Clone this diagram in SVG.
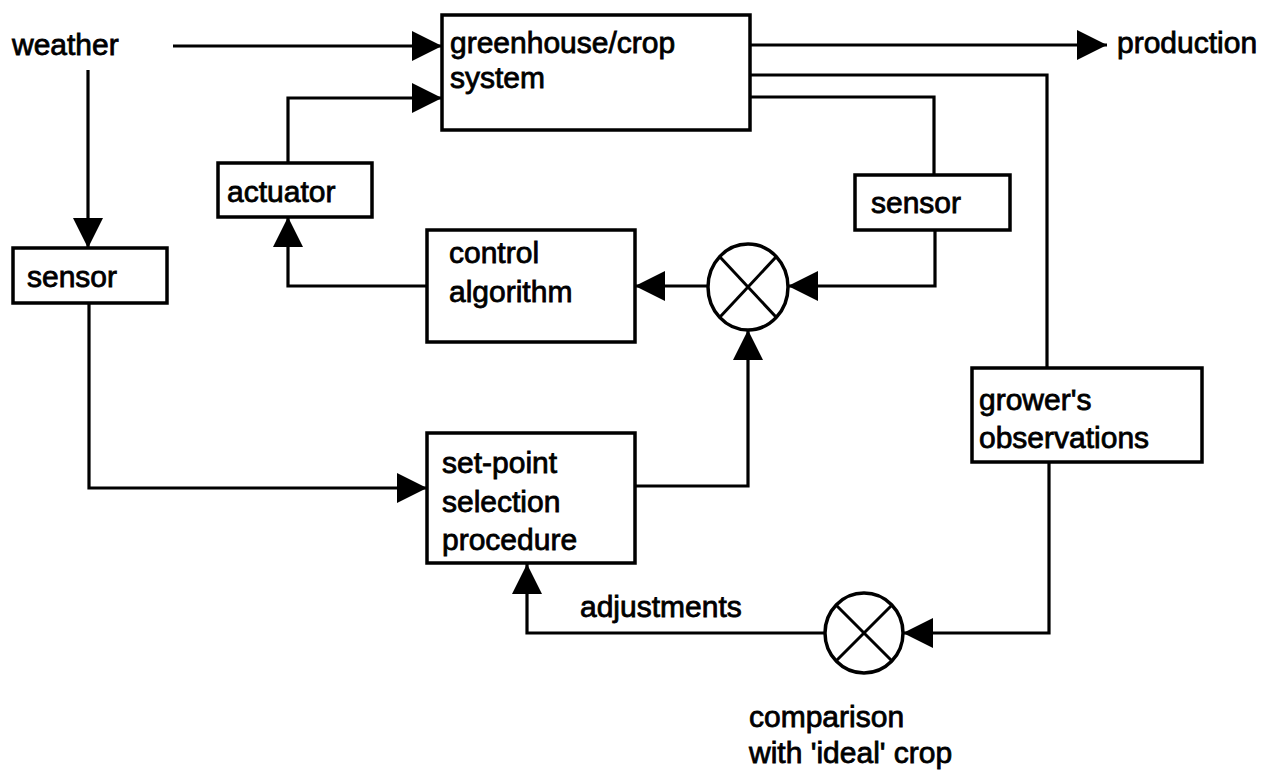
<svg xmlns="http://www.w3.org/2000/svg" width="1269" height="771" viewBox="0 0 1269 771">
  <style>
    .box { fill: #fff; stroke: #000; stroke-width: 3.5; }
    .wire { fill: none; stroke: #000; stroke-width: 3.2; stroke-linejoin: miter; }
    .sum { fill: #fff; stroke: #000; stroke-width: 3.5; }
    .cross { stroke: #000; stroke-width: 3; }
    text { font-family: "Liberation Sans", Arial, Helvetica, sans-serif; font-size: 30px; fill: #000; stroke: #000; stroke-width: 0.8; }
  </style>
  <defs>
    <marker id="arrow" markerUnits="userSpaceOnUse" markerWidth="31" markerHeight="31" refX="30" refY="15" orient="auto">
      <path d="M0,0 L30,15 L0,30 Z" fill="#000"/>
    </marker>
  </defs>
  <rect width="1269" height="771" fill="#fff"/>

  <!-- connectors -->
  <g id="connectors">
    <!-- weather into the greenhouse -->
    <path class="wire" d="M173,46 H442" marker-end="url(#arrow)"/>
    <!-- weather down to the outside sensor -->
    <path class="wire" d="M88,70 V248" marker-end="url(#arrow)"/>
    <!-- actuator into the greenhouse -->
    <path class="wire" d="M288,163 V98 H442" marker-end="url(#arrow)"/>
    <!-- production output -->
    <path class="wire" d="M750,45 H1107" marker-end="url(#arrow)"/>
    <!-- crop state to grower's observations -->
    <path class="wire" d="M750,75 H1047 V368"/>
    <!-- crop state to inside sensor -->
    <path class="wire" d="M750,97 H934 V175"/>
    <!-- inside sensor to comparator -->
    <path class="wire" d="M935,230 V286 H788" marker-end="url(#arrow)"/>
    <!-- comparator to control algorithm -->
    <path class="wire" d="M708,286 H635" marker-end="url(#arrow)"/>
    <!-- control algorithm to actuator -->
    <path class="wire" d="M427,286 H288 V217" marker-end="url(#arrow)"/>
    <!-- outside sensor to set-point selection -->
    <path class="wire" d="M89,303 V488 H427" marker-end="url(#arrow)"/>
    <!-- set-point to comparator -->
    <path class="wire" d="M635,486 H748 V330" marker-end="url(#arrow)"/>
    <!-- grower's observations to comparison -->
    <path class="wire" d="M1049,462 V633 H903" marker-end="url(#arrow)"/>
    <!-- comparison adjustments back to set-point -->
    <path class="wire" d="M825,633 H527 V564" marker-end="url(#arrow)"/>
  </g>

  <g id="greenhouse">
    <rect class="box" x="442" y="15" width="308" height="115"/>
    <text x="450" y="53">greenhouse/crop</text>
    <text x="450" y="88">system</text>
  </g>

  <g id="weather">
    <text x="12" y="55">weather</text>
  </g>

  <g id="production">
    <text x="1117" y="53">production</text>
  </g>

  <g id="actuator">
    <rect class="box" x="218" y="163" width="154" height="54"/>
    <text x="227" y="202">actuator</text>
  </g>

  <g id="sensor-inside">
    <rect class="box" x="855" y="175" width="155" height="55"/>
    <text x="871" y="213">sensor</text>
  </g>

  <g id="sensor-outside">
    <rect class="box" x="13" y="248" width="154" height="55"/>
    <text x="27" y="287">sensor</text>
  </g>

  <g id="control-algorithm">
    <rect class="box" x="427" y="230" width="208" height="112"/>
    <text x="449" y="263">control</text>
    <text x="449" y="302">algorithm</text>
  </g>

  <g id="comparator">
    <ellipse class="sum" cx="748" cy="287" rx="40" ry="43"/>
    <line class="cross" x1="720" y1="257" x2="776" y2="317"/>
    <line class="cross" x1="776" y1="257" x2="720" y2="317"/>
  </g>

  <g id="set-point-selection">
    <rect class="box" x="427" y="433" width="208" height="130"/>
    <text x="442" y="473">set-point</text>
    <text x="442" y="512">selection</text>
    <text x="442" y="550">procedure</text>
  </g>

  <g id="growers-observations">
    <rect class="box" x="972" y="368" width="230" height="94"/>
    <text x="979" y="410">grower's</text>
    <text x="979" y="448">observations</text>
  </g>

  <g id="ideal-comparison">
    <ellipse class="sum" cx="864" cy="633" rx="39" ry="40"/>
    <line class="cross" x1="836" y1="605" x2="892" y2="661"/>
    <line class="cross" x1="892" y1="605" x2="836" y2="661"/>
    <text x="749" y="727">comparison</text>
    <text x="749" y="763">with 'ideal' crop</text>
  </g>

  <g id="adjustments-label">
    <text x="580" y="617">adjustments</text>
  </g>
</svg>
